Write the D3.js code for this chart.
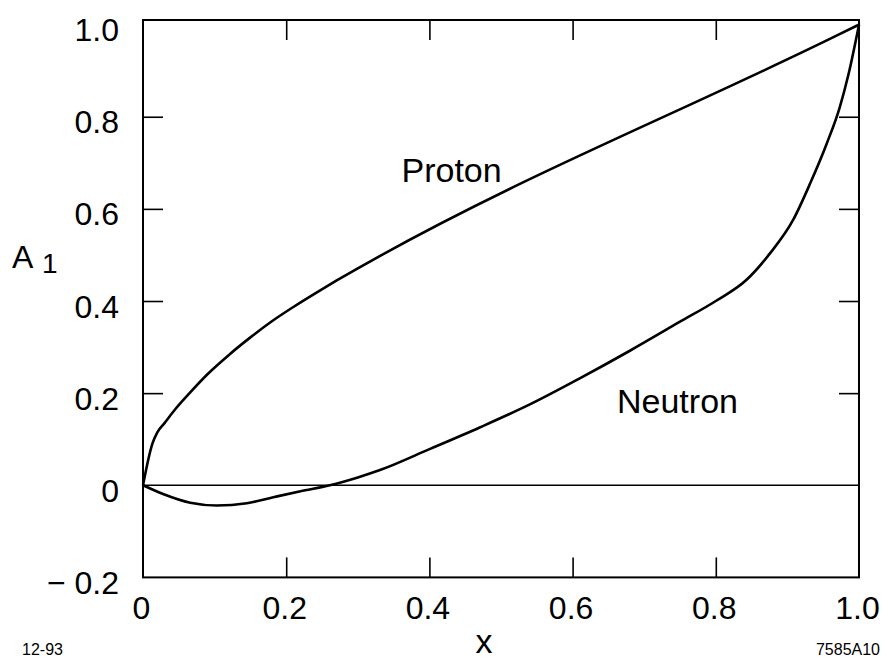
<!DOCTYPE html>
<html>
<head>
<meta charset="utf-8">
<script src="https://cdn.jsdelivr.net/npm/d3@7"></script>
<style>
  html, body { margin: 0; padding: 0; background: #fff; }
  svg { display: block; font-family: "Liberation Sans", Arial, Helvetica, sans-serif; }
</style>
</head>
<body>
<svg id="chart" width="889" height="660"></svg>
<script>
// Spin asymmetry A1 versus x for proton and neutron
const xTickValues = [0, 0.2, 0.4, 0.6, 0.8, 1.0];
const xTickLabels = ["0", "0.2", "0.4", "0.6", "0.8", "1.0"];
const yTickValues = [-0.2, 0, 0.2, 0.4, 0.6, 0.8, 1.0];
const yTickLabels = ["\u2212 0.2", "0", "0.2", "0.4", "0.6", "0.8", "1.0"];
const innerTicks = [0.2, 0.4, 0.6, 0.8];

const proton = [
  [0, 0], [0.013, 0.09], [0.02, 0.115], [0.03, 0.135], [0.045, 0.165],
  [0.065, 0.2], [0.09, 0.241], [0.12, 0.283], [0.15, 0.321], [0.18, 0.356],
  [0.21, 0.387], [0.24, 0.416], [0.27, 0.444], [0.30, 0.471], [0.33, 0.497],
  [0.97, 0.977], [1, 1]
];
const neutron = [
  [0, 0], [0.028, -0.019], [0.066, -0.038], [0.103, -0.044], [0.145, -0.039],
  [0.182, -0.026], [0.22, -0.013], [0.261, 0], [0.30, 0.017], [0.331, 0.033],
  [0.401, 0.079], [0.471, 0.126], [0.541, 0.176], [0.61, 0.232], [0.68, 0.292],
  [0.75, 0.355], [0.80, 0.40], [0.843, 0.446], [0.876, 0.504], [0.908, 0.576],
  [0.932, 0.656], [0.955, 0.742], [0.973, 0.82], [0.985, 0.89], [1, 1]
];

const svg = d3.select("#chart");
const x = d3.scaleLinear().domain([0, 1]).range([143, 859]);
const y = d3.scaleLinear().domain([-0.2, 1.01]).range([577.4, 20]);

// frame
svg.append("rect")
  .attr("x", x(0)).attr("y", y(1.01))
  .attr("width", x(1) - x(0)).attr("height", y(-0.2) - y(1.01))
  .attr("fill", "none").attr("stroke", "#000").attr("stroke-width", 2);

// inward ticks on all four sides
const tickLen = 20;
const styleTicks = g => {
  g.select(".domain").remove();
  g.selectAll("line").attr("stroke", "#000").attr("stroke-width", 1.6);
  g.selectAll("text").remove();
};
svg.append("g").attr("transform", `translate(0,${y(-0.2)})`)
  .call(d3.axisBottom(x).tickValues(innerTicks).tickSize(-tickLen)).call(styleTicks);
svg.append("g").attr("transform", `translate(0,${y(1.01)})`)
  .call(d3.axisTop(x).tickValues(innerTicks).tickSize(-tickLen)).call(styleTicks);
svg.append("g").attr("transform", `translate(${x(0)},0)`)
  .call(d3.axisLeft(y).tickValues(innerTicks).tickSize(-tickLen)).call(styleTicks);
svg.append("g").attr("transform", `translate(${x(1)},0)`)
  .call(d3.axisRight(y).tickValues(innerTicks).tickSize(-tickLen)).call(styleTicks);

// tick labels
const xLab = svg.append("g").attr("transform", `translate(0,${y(-0.2)})`)
  .call(d3.axisBottom(x).tickValues(xTickValues).tickSize(0).tickPadding(19)
    .tickFormat((d, i) => xTickLabels[i]));
xLab.select(".domain").remove();
xLab.selectAll("text").attr("font-size", 32).attr("fill", "#000")
  .attr("font-family", "'Liberation Sans', Arial, sans-serif").attr("dx", -2);

const yLab = svg.append("g").attr("transform", `translate(${x(0)},0)`)
  .call(d3.axisLeft(y).tickValues(yTickValues).tickSize(0).tickPadding(24)
    .tickFormat((d, i) => yTickLabels[i]));
yLab.select(".domain").remove();
yLab.selectAll("text").attr("font-size", 32).attr("fill", "#000")
  .attr("font-family", "'Liberation Sans', Arial, sans-serif").attr("dy", "0.5em");

// zero reference line
svg.append("line")
  .attr("x1", x(0)).attr("x2", x(1)).attr("y1", y(0)).attr("y2", y(0))
  .attr("stroke", "#000").attr("stroke-width", 1.6);

// curves
const line = d3.line().x(d => x(d[0])).y(d => y(d[1])).curve(d3.curveMonotoneX);
[proton, neutron].forEach(s => {
  svg.append("path").datum(s).attr("d", line)
    .attr("fill", "none").attr("stroke", "#000").attr("stroke-width", 2.6)
    .attr("stroke-linejoin", "round");
});

// series labels
svg.append("text").attr("x", x(0.361)).attr("y", y(0.659))
  .attr("font-size", 34).text("Proton");
svg.append("text").attr("x", x(0.662)).attr("y", y(0.157))
  .attr("font-size", 34).text("Neutron");

// axis titles
svg.append("text").attr("x", 484).attr("y", 653).attr("text-anchor", "middle")
  .attr("font-size", 34).text("x");
const yt = svg.append("text").attr("x", 12).attr("y", 268).attr("font-size", 32);
yt.append("tspan").text("A");
yt.append("tspan").attr("x", 42).attr("y", 273).attr("font-size", 28).text("1");

// figure codes
svg.append("text").attr("x", 22).attr("y", 655).attr("font-size", 16).text("12-93");
svg.append("text").attr("x", 880).attr("y", 655).attr("text-anchor", "end")
  .attr("font-size", 16).text("7585A10");
</script>
</body>
</html>
